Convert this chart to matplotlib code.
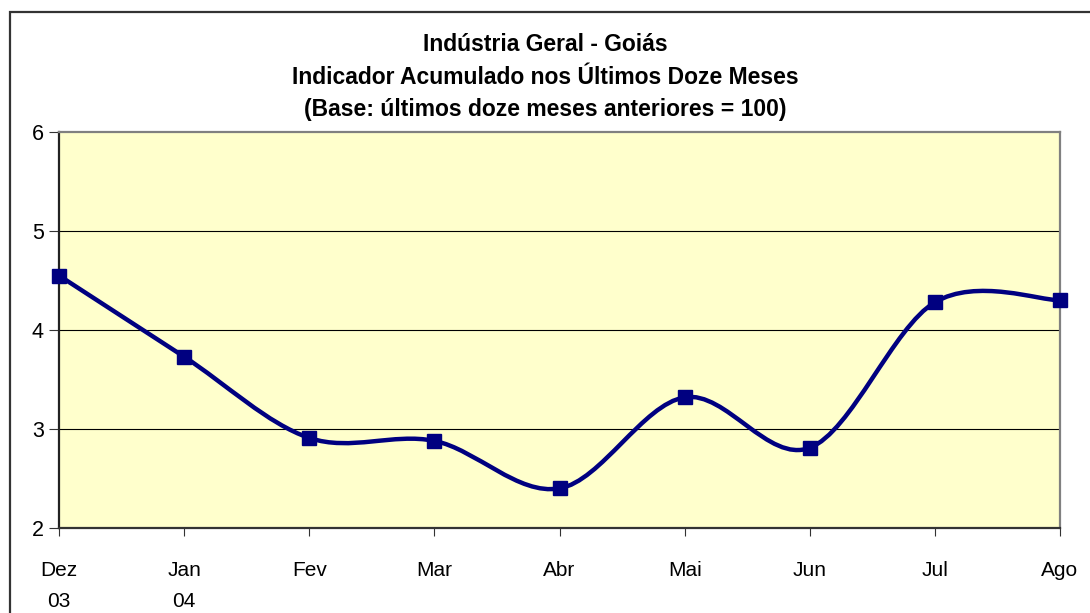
import numpy as np
import matplotlib
matplotlib.use("Agg")
import matplotlib.pyplot as plt
from matplotlib.path import Path
from matplotlib.patches import PathPatch, Rectangle

plt.rcParams['font.family'] = ['Liberation Sans', 'DejaVu Sans']

# data
months = ["Dez\n03", "Jan\n04", "Fev", "Mar", "Abr", "Mai", "Jun", "Jul", "Ago"]
values = [4.55, 3.73, 2.91, 2.88, 2.40, 3.32, 2.81, 4.28, 4.30]
yticks = [2, 3, 4, 5, 6]
title = ("Indústria Geral - Goiás\n"
         "Indicador Acumulado nos Últimos Doze Meses\n"
         "(Base: últimos doze meses anteriores = 100)")

navy = "#000080"


def smooth_path(x, y):
    # excel-like smoothed line: cubic bezier with catmull-rom control points
    pts = np.column_stack([x, y]).astype(float)
    n = len(pts)
    verts = [pts[0]]
    codes = [Path.MOVETO]
    for i in range(n - 1):
        p0 = pts[i - 1] if i > 0 else pts[i]
        p1 = pts[i]
        p2 = pts[i + 1]
        p3 = pts[i + 2] if i + 2 < n else pts[i + 1]
        c1 = p1 + (p2 - p0) / 6.0
        c2 = p2 - (p3 - p1) / 6.0
        verts += [c1, c2, p2]
        codes += [Path.CURVE4] * 3
    return Path(verts, codes)


fig = plt.figure(figsize=(10.9, 6.13), dpi=100)
fig.patch.set_facecolor("white")

# outer chart frame (runs off the right and bottom edges)
fig.patches.append(Rectangle((10 / 1090, -0.05), 1.2, 1 - 12 / 613 + 0.05,
                             transform=fig.transFigure, fill=False,
                             edgecolor="#333333", linewidth=1.6))

ax = fig.add_axes([59 / 1090, 1 - 528 / 613, 1001 / 1090, 396 / 613])
ax.set_facecolor("#FFFFCC")

x = np.arange(len(months))
ax.add_patch(PathPatch(smooth_path(x, values), fill=False, edgecolor=navy,
                       linewidth=3.2, zorder=3))
ax.plot(x, values, linestyle="none", marker="s", markersize=10,
        color=navy, zorder=4, clip_on=False)

ax.set_xlim(0, len(months) - 1)
ax.set_ylim(2, 6)
ax.set_yticks(yticks)
ax.set_xticks(x)
ax.set_xticklabels(months, fontsize=15, linespacing=1.75)
ax.tick_params(axis="x", direction="out", length=6, pad=18, color="#333333")
ax.tick_params(axis="y", direction="out", length=7, pad=4, labelsize=15.5,
               color="#333333")

for v in yticks[1:-1]:
    ax.axhline(v, color="black", linewidth=0.8, zorder=1)

ax.spines["left"].set_color("#222222")
ax.spines["bottom"].set_color("#333333")
ax.spines["top"].set_color("#808080")
ax.spines["right"].set_color("#808080")
for s in ax.spines.values():
    s.set_linewidth(1.6)

fig.text(0.5, 1 - 77 / 613, title, ha="center", va="center",
         fontsize=16.5, fontweight="bold", linespacing=1.55)

fig.savefig("out.png", dpi=100)
